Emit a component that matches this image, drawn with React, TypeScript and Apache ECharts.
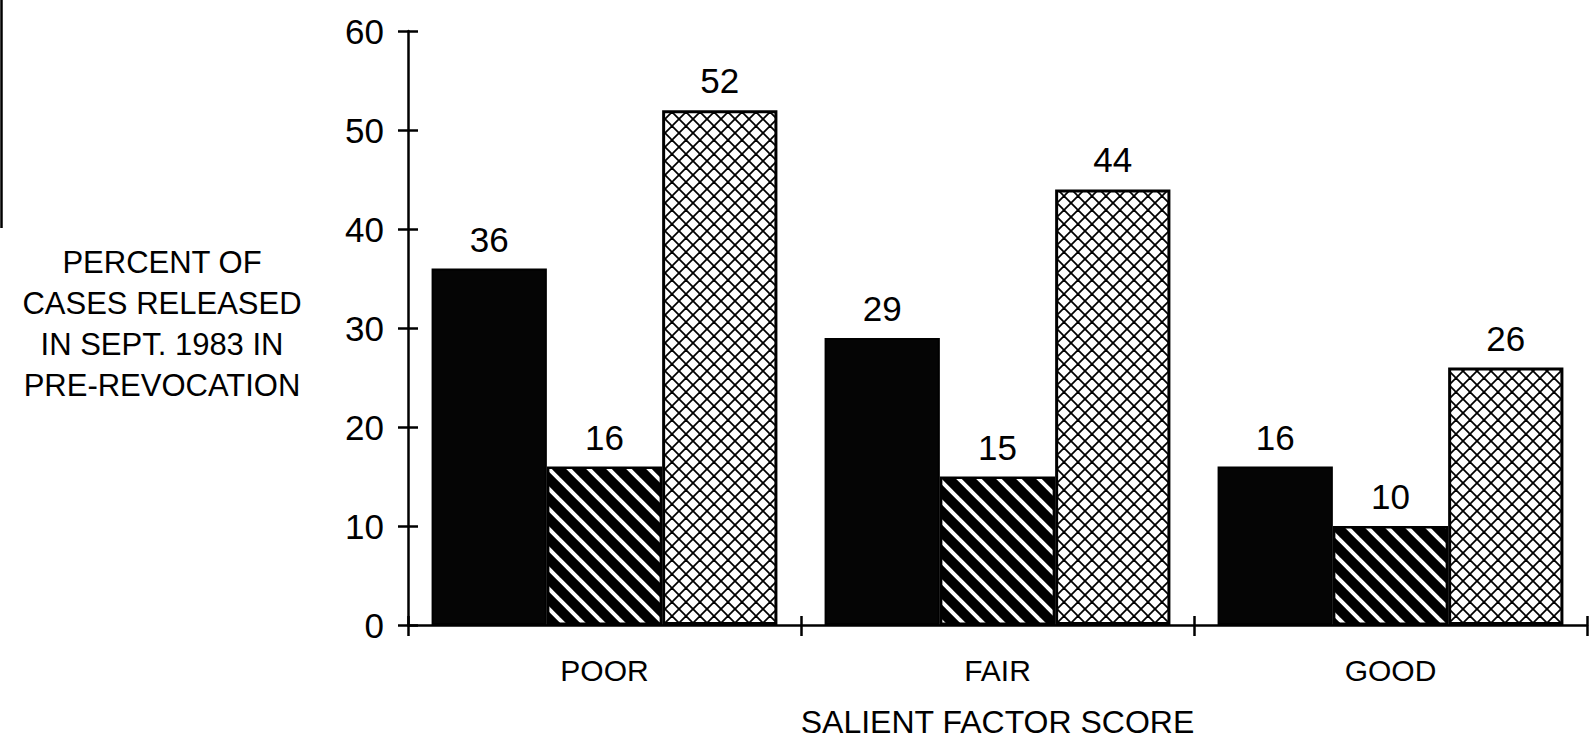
import React, { useEffect, useRef } from "react";
import * as echarts from "echarts";

const categories = ["POOR", "FAIR", "GOOD"];
const solidValues = [36, 29, 16];
const stripedValues = [16, 15, 10];
const crossValues = [52, 44, 26];
const yMin = 0;
const yMax = 60;
const yInterval = 10;
const yAxisTitle = "PERCENT OF\nCASES RELEASED\nIN SEPT. 1983 IN\nPRE-REVOCATION";
const xAxisTitle = "SALIENT FACTOR SCORE";

const FONT = "'Liberation Sans', Arial, Helvetica, sans-serif";

function makeStripeTile(): HTMLCanvasElement {
  const s = 20;
  const c = document.createElement("canvas");
  c.width = s;
  c.height = s;
  const ctx = c.getContext("2d")!;
  ctx.fillStyle = "#000";
  ctx.fillRect(0, 0, s, s);
  ctx.strokeStyle = "#fff";
  ctx.lineWidth = 4;
  for (const k of [-s, 0, s]) {
    ctx.beginPath();
    ctx.moveTo(k - 5, -5);
    ctx.lineTo(k + s + 5, s + 5);
    ctx.stroke();
  }
  return c;
}

function makeCrossTile(): HTMLCanvasElement {
  const s = 14;
  const c = document.createElement("canvas");
  c.width = s;
  c.height = s;
  const ctx = c.getContext("2d")!;
  ctx.fillStyle = "#fff";
  ctx.fillRect(0, 0, s, s);
  ctx.strokeStyle = "#000";
  ctx.lineWidth = 1.8;
  for (const k of [-s, 0, s]) {
    ctx.beginPath();
    ctx.moveTo(k - 3, -3);
    ctx.lineTo(k + s + 3, s + 3);
    ctx.stroke();
    ctx.beginPath();
    ctx.moveTo(k + s + 3, -3);
    ctx.lineTo(k - 3, s + 3);
    ctx.stroke();
  }
  return c;
}

export default function App() {
  const ref = useRef<HTMLDivElement>(null);

  useEffect(() => {
    if (!ref.current) return;
    const chart = echarts.init(ref.current, undefined, { renderer: "svg" });

    const stripe = { image: makeStripeTile(), repeat: "repeat" } as any;
    const cross = { image: makeCrossTile(), repeat: "repeat" } as any;

    const labelCommon = {
      show: true,
      position: "top",
      distance: 12,
      color: "#000",
      fontSize: 35,
      fontFamily: FONT,
    };

    const option: any = {
      animation: false,
      backgroundColor: "#fff",
      grid: { left: 408, right: 2, top: 31, bottom: 121, containLabel: false },
      xAxis: [
        {
          type: "category",
          data: categories,
          position: "bottom",
          axisLine: { show: true, lineStyle: { color: "#000", width: 2.5 } },
          axisTick: { show: true, length: 11, lineStyle: { color: "#000", width: 2.5 } },
          axisLabel: { color: "#000", fontSize: 30, fontFamily: FONT, margin: 30 },
          name: xAxisTitle,
          nameLocation: "middle",
          nameGap: 81,
          nameTextStyle: { color: "#000", fontSize: 32, fontFamily: FONT },
        },
        {
          type: "category",
          data: categories,
          position: "bottom",
          axisLine: { show: false },
          axisTick: { show: true, inside: true, length: 9, lineStyle: { color: "#000", width: 2.5 } },
          axisLabel: { show: false },
        },
      ],
      yAxis: [
        {
          type: "value",
          min: yMin,
          max: yMax,
          interval: yInterval,
          position: "left",
          splitLine: { show: false },
          axisLine: { show: true, lineStyle: { color: "#000", width: 2.5 } },
          axisTick: { show: true, length: 10, lineStyle: { color: "#000", width: 2.5 } },
          axisLabel: { color: "#000", fontSize: 35, fontFamily: FONT, margin: 24 },
        },
        {
          type: "value",
          min: yMin,
          max: yMax,
          interval: yInterval,
          position: "left",
          splitLine: { show: false },
          axisLine: { show: false },
          axisTick: { show: true, inside: true, length: 10, lineStyle: { color: "#000", width: 2.5 } },
          axisLabel: { show: false },
        },
      ],
      graphic: [
        {
          type: "text",
          x: 162,
          y: 324,
          style: {
            text: yAxisTitle,
            fill: "#000",
            fontSize: 31,
            fontFamily: FONT,
            lineHeight: 41,
            align: "center",
            verticalAlign: "middle",
          },
        },
        {
          type: "line",
          shape: { x1: 1.5, y1: 0, x2: 1.5, y2: 228 },
          style: { stroke: "#000", lineWidth: 2.5 },
        },
      ],
      series: [
        {
          type: "bar",
          data: solidValues,
          barGap: "0%",
          barCategoryGap: "12%",
          itemStyle: { color: "#050505", borderColor: "#000", borderWidth: 2 },
          label: labelCommon,
        },
        {
          type: "bar",
          data: stripedValues,
          barGap: "0%",
          barCategoryGap: "12%",
          itemStyle: { color: stripe, borderColor: "#000", borderWidth: 2.5 },
          label: labelCommon,
        },
        {
          type: "bar",
          data: crossValues,
          barGap: "0%",
          barCategoryGap: "12%",
          itemStyle: { color: cross, borderColor: "#000", borderWidth: 3 },
          label: labelCommon,
        },
      ],
    };

    chart.setOption(option);
    return () => chart.dispose();
  }, []);

  return (
    <div
      ref={ref}
      style={{ position: "fixed", left: 0, top: 0, width: 1589, height: 746, background: "#fff" }}
    />
  );
}
